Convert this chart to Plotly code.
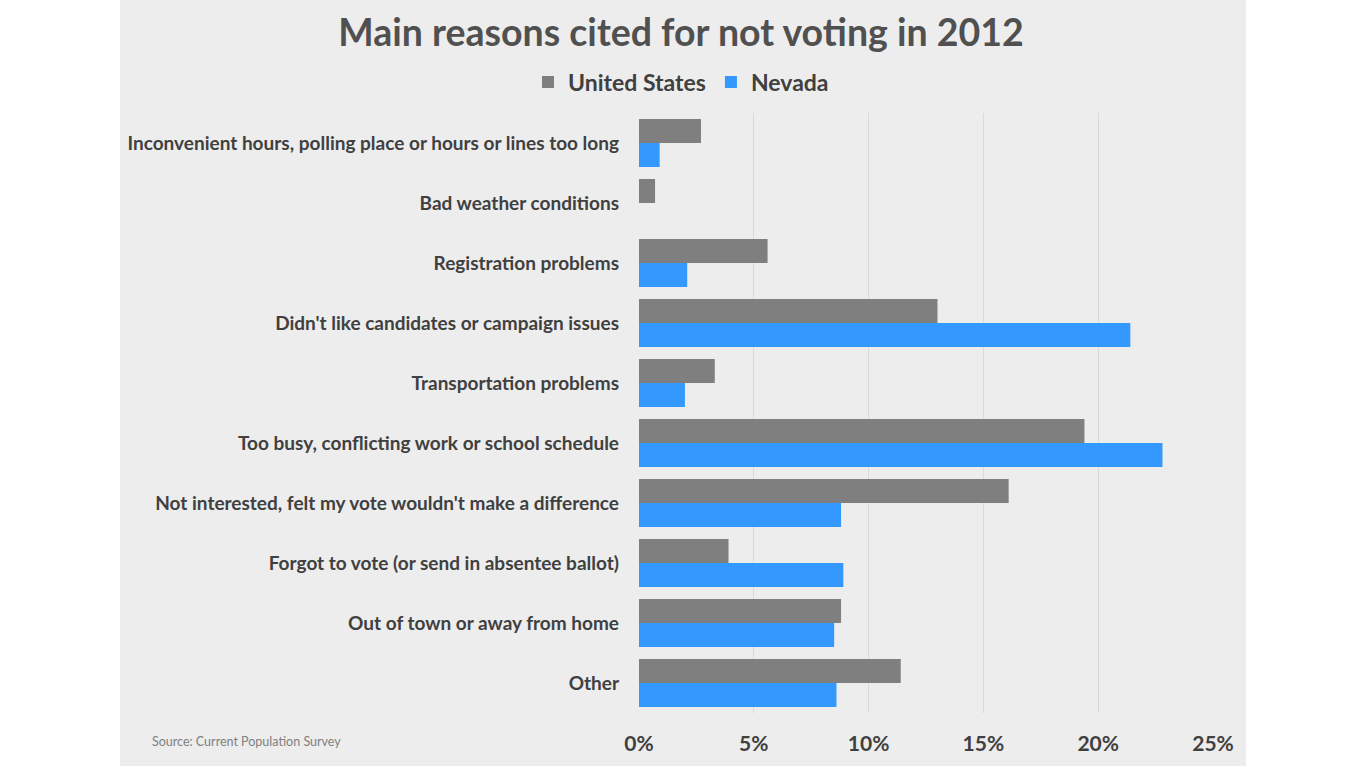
import plotly.graph_objects as go

categories = [
    "Inconvenient hours, polling place or hours or lines too long",
    "Bad weather conditions",
    "Registration problems",
    "Didn't like candidates or campaign issues",
    "Transportation problems",
    "Too busy, conflicting work or school schedule",
    "Not interested, felt my vote wouldn't make a difference",
    "Forgot to vote (or send in absentee ballot)",
    "Out of town or away from home",
    "Other",
]
us_values = [2.7, 0.7, 5.6, 13.0, 3.3, 19.4, 16.1, 3.9, 8.8, 11.4]
nv_values = [0.9, 0.0, 2.1, 21.4, 2.0, 22.8, 8.8, 8.9, 8.5, 8.6]
tick_vals = [0, 5, 10, 15, 20, 25]
tick_text = ["0%", "5%", "10%", "15%", "20%", "25%"]

FONT = "Lato"
TXT = "#404040"

fig = go.Figure()
fig.add_trace(go.Bar(y=categories, x=us_values, name="<b>United States</b>",
                     orientation="h", marker=dict(color="#7F7F7F", line=dict(width=0))))
fig.add_trace(go.Bar(y=categories, x=nv_values, name="<b>Nevada</b>",
                     orientation="h", marker=dict(color="#3399FF", line=dict(width=0))))

L, R, T, B = 639, 1213, 113, 713
W, H = 1366, 768
pw, ph = R - L, B - T

fig.add_shape(type="rect", xref="paper", yref="paper",
              x0=(120 - L) / pw, x1=(1246 - L) / pw,
              y0=(B - 766) / ph, y1=(B - 0) / ph,
              fillcolor="#EDEDED", line=dict(width=0), layer="below")

fig.update_layout(
    width=W, height=H,
    margin=dict(l=L, r=W - R, t=T, b=H - B, autoexpand=False),
    paper_bgcolor="white",
    plot_bgcolor="rgba(0,0,0,0)",
    barmode="group", bargap=0.2, bargroupgap=0,
    title=dict(text="<b>Main reasons cited for not voting in 2012</b>",
               x=681 / W, xref="container", xanchor="center",
               y=1 - 33 / H, yref="container", yanchor="middle",
               font=dict(family=FONT, size=37.5, color="#505050")),
    legend=dict(orientation="h", x=681 / W, xref="container", xanchor="center",
                y=1 - 82 / H, yref="container", yanchor="middle",
                font=dict(family=FONT, size=23, color=TXT),
                bgcolor="rgba(0,0,0,0)", traceorder="normal"),
    showlegend=True,
    font=dict(family=FONT, color=TXT),
)
fig.update_xaxes(range=[0, 25], tickvals=tick_vals,
                 ticktext=["<b>" + t + "</b>" for t in tick_text],
                 showgrid=True, gridcolor="#D9D9D9", gridwidth=1,
                 zeroline=False, showline=False, ticks="", automargin=False,
                 tickfont=dict(family=FONT, size=21, color=TXT),
                 ticklabelstandoff=16)
fig.update_yaxes(autorange="reversed", showgrid=False, zeroline=False,
                 showline=False, ticks="", automargin=False,
                 tickvals=categories,
                 ticktext=["<b>" + c + "</b>" for c in categories],
                 tickfont=dict(family=FONT, size=19, color=TXT),
                 ticklabelstandoff=19)

fig.add_annotation(text="Source: Current Population Survey", xref="paper", yref="paper",
                   x=(150 - L) / pw, y=(B - 741) / ph, xanchor="left", yanchor="middle",
                   showarrow=False, font=dict(family=FONT, size=12.5, color="#808080"))

fig.write_html("out.html", config={"displayModeBar": False},
               post_script="document.body.style.margin='0';")
